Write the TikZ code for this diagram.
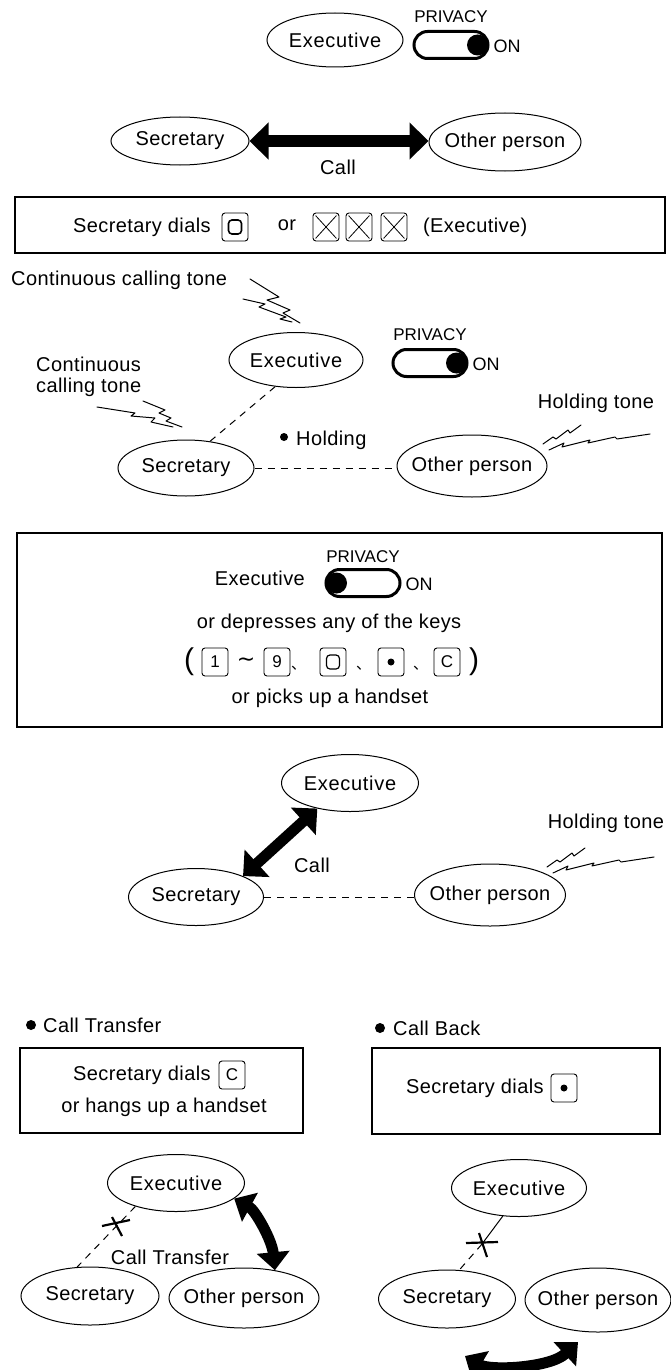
\documentclass[tikz,border=0pt]{standalone}
\usepackage{fontspec}
\setmainfont[LetterSpace=2]{Liberation Sans}
\newfontfamily\spaced[LetterSpace=3.5]{Liberation Sans}
\newfontfamily\plain{Liberation Sans}
\newfontfamily\cjk{Noto Sans CJK JP}
\newfontfamily\dejavu{DejaVu Sans}
\usetikzlibrary{shapes.geometric,shapes.misc,arrows.meta,calc}
\begin{document}
\begin{tikzpicture}[x=1pt,y=-1pt,
  every node/.style={inner sep=0pt, font=\fontsize{20}{21}\selectfont},
  person/.style 2 args={ellipse,draw,line width=1pt,inner xsep=-16pt,minimum width=#1,minimum height=#2},
  frame/.style 2 args={draw,line width=1.3pt,minimum width=#1,minimum height=#2},
  keybox/.style={draw,rounded corners=3pt,line width=0.9pt,minimum width=26pt,minimum height=28pt,font=\plain\fontsize{17}{17}\selectfont},
  zerokey/.style={draw,rounded corners=3.5pt,line width=1.6pt,minimum width=13pt,minimum height=14pt},
  sw/.style={rounded rectangle,draw,line width=3pt,minimum width=74pt,minimum height=27pt},
  knob/.style={circle,fill,minimum size=21pt},
  small/.style={font=\plain\fontsize{17}{17}\selectfont},
  ontext/.style={font=\plain\fontsize{18}{18}\selectfont},
  bigarrow/.style={line width=11pt,{Triangle[length=19pt,width=36pt]}-{Triangle[length=19pt,width=36pt]}},
  curvearrow/.style={line width=11pt,{Triangle[length=18pt,width=32pt]}-{Triangle[length=18pt,width=32pt]}},
  dsh/.style={line width=1pt,dash pattern=on 7pt off 6pt},
  bolt/.style={line width=1pt,line join=round,line cap=round},
  xmark/.style={line width=2.2pt},
  dotn/.style={circle,fill,minimum size=#1},
  xline/.style={line width=0.8pt},
  holdbolt/.pic={
    \draw[bolt] (-53,41) -- (-43,34) -- (-40,36) -- (-28,27) -- (-26,30) -- (-15,22);
    \draw[bolt] (-47,47) -- (-32,40) -- (-34,44) -- (-6,37) -- (-8,40) -- (19,34) -- (21,36) -- (54,31);
  },
]
\fill[white] (0,0) rectangle (670,1370);
\useasboundingbox (0,0) rectangle (670,1370);

% ---------- top ----------
\node[person={136pt}{54pt}] (exec1) at (335,40) {\spaced Executive};
\node[small] (priv1) at (451,17) {PRIVACY};
\node[sw] (sw1) at (451,45) {};
\node[knob] (knob1) at ($(sw1.east)+(-12,0)$) {};
\node[ontext,anchor=west] (on1) at ($(sw1.east)+(4,1)$) {ON};

% ---------- row 2 ----------
\node[person={138pt}{48pt}] (sec1) at (180,141) {Secretary};
\node[person={152pt}{58pt}] (oth1) at (505,142) {Other person};
\draw[bigarrow] (sec1.east) -- (sec1.east -| oth1.west);
\node (call1) at (338,167) {Call};

% ---------- box 1 ----------
\node[frame={650pt}{56pt}] (box1) at (340,225) {};
\node[anchor=west] (sd1) at (73,227) {Secretary dials};
\node[keybox] (k0a) at (235,227) {};
\node[zerokey] (k0ain) at (k0a) {};
\node (or1) at (287,225) {or};
\node[keybox] (kx1) at (326,227) {};
\node[keybox] (kx2) at (359,227) {};
\node[keybox] (kx3) at (394,227) {};
\foreach \k in {kx1,kx2,kx3}{
  \draw[xline] ([shift={(3,3)}]\k.north west) -- ([shift={(-3,-3)}]\k.south east);
  \draw[xline] ([shift={(-3,3)}]\k.north east) -- ([shift={(3,-3)}]\k.south west);
}
\node[anchor=west] (exe1) at (423,227) {(Executive)};

% ---------- diagram 2 ----------
\node[anchor=west] (cct1) at (11,280) {Continuous calling tone};
\draw[bolt] (250,279) -- (279,297) -- (267,300) -- (290,310) -- (283,313) -- (300,323);
\draw[bolt] (243,299) -- (265,304) -- (259,307) -- (286,317) -- (280,319) -- (292,322);

\node[person={134pt}{55pt}] (exec2) at (296,360) {\spaced Executive};
\node[small] (priv2) at (430,335) {PRIVACY};
\node[sw] (sw2) at (430,363) {};
\node[knob] (knob2) at ($(sw2.east)+(-12,0)$) {};
\node[ontext,anchor=west] (on2) at ($(sw2.east)+(4,1)$) {ON};

\node[anchor=west,align=left] (cct2) at (36,377) {Continuous\\calling tone};
\draw[bolt] (97,407) -- (135,413) -- (131,416) -- (155,418) -- (151,422) -- (173,427);
\draw[bolt] (143,401) -- (165,410) -- (159,413) -- (171,418) -- (166,421) -- (182,427);

\node[person={136pt}{56pt}] (sec2) at (186,468) {Secretary};
\node[person={150pt}{62pt}] (oth2) at (472,466) {Other person};
\draw[dsh] (exec2.232) -- (sec2.48);
\draw[dsh] (sec2.east) -- (sec2.east -| oth2.west);
\node[dotn=8pt] (hdot) at (284,437) {};
\node[anchor=west] (hold) at (296,440) {Holding};
\node (ht2) at (596,403) {Holding tone};
\pic at (ht2.center) {holdbolt};

% ---------- box 2 ----------
\node[frame={645pt}{194pt}] (box2) at (339.5,630) {};
\node[small] (priv3) at (363,557) {PRIVACY};
\node[anchor=east] (exec3t) at (305,578) {Executive};
\node[sw] (sw3) at (363,583) {};
\node[knob] (knob3) at ($(sw3.west)+(12,0)$) {};
\node[ontext,anchor=west] (on3) at ($(sw3.east)+(4,1)$) {ON};
\node (dep) at (329,623) {or depresses any of the keys};

\node[font=\plain\fontsize{30}{30}\selectfont] (lp) at (189,662) {(};
\node[keybox] (k1) at (215,662) {1};
\node[font=\dejavu\fontsize{22}{22}\selectfont] (tl) at (246,662) {∼};
\node[keybox] (k9) at (277,662) {9};
\node[font=\cjk\fontsize{15}{15}\selectfont,anchor=west] (cm1) at (291,668) {、};
\node[keybox] (k0b) at (333,662) {};
\node[zerokey,line width=1.2pt] (k0bin) at (k0b) {};
\node[font=\cjk\fontsize{15}{15}\selectfont,anchor=west] (cm2) at (356,668) {、};
\node[keybox] (kdot) at (391,662) {};
\node[dotn=7pt] (kdotin) at (kdot) {};
\node[font=\cjk\fontsize{15}{15}\selectfont,anchor=west] (cm3) at (413,668) {、};
\node[keybox] (kc) at (447,662) {C};
\node[font=\plain\fontsize{30}{30}\selectfont] (rp) at (474,662) {)};
\node (pick) at (330,698) {or picks up a handset};

% ---------- diagram 3 ----------
\node[person={137pt}{57pt}] (exec4) at (350,783) {\spaced Executive};
\node[person={135pt}{57pt}] (sec4) at (196,897) {Secretary};
\node[person={151pt}{62pt}] (oth4) at (490,895) {Other person};
\draw[bigarrow] (sec4.24) -- (exec4.218);
\node (call4) at (312,865) {Call};
\draw[dsh] (sec4.east) -- (sec4.east -| oth4.west);
\node (ht4) at (606,823) {Holding tone};
\pic at ($(ht4.center)+(-6,3)$) {holdbolt};

% ---------- bottom headings and boxes ----------
\node[dotn=10pt] (bd1) at (31,1025) {};
\node[anchor=west] (ctt) at (43,1025) {Call Transfer};
\node[dotn=10pt] (bd2) at (380,1028) {};
\node[anchor=west] (cbt) at (393,1028) {Call Back};

\node[frame={283pt}{85pt}] (boxL) at (161.5,1090.5) {};
\node[anchor=west] (sdL) at (73,1075) {Secretary dials};
\node[keybox] (kcL) at (232,1075) {C};
\node (hang) at (164,1107) {or hangs up a handset};

\node[frame={288pt}{86pt}] (boxR) at (516,1091) {};
\node[anchor=west] (sdR) at (406,1088) {Secretary dials};
\node[keybox] (kdR) at (564,1088) {};
\node[dotn=7pt] (kdRin) at (kdR) {};

% ---------- bottom left diagram ----------
\node[person={137pt}{57pt}] (execL) at (176,1183) {\spaced Executive};
\node[person={138pt}{58pt}] (secL) at (90,1296) {Secretary};
\node[person={150pt}{60pt}] (othL) at (244,1298) {Other person};
\draw[dsh] (execL.210) -- (secL.114);
\draw[xmark] (102,1226) -- (130,1220);
\draw[xmark] (112,1217) -- (122,1236);
\node (ctl) at (170,1257) {Call Transfer};
\draw[curvearrow] (execL.345) .. controls (255,1210) and (272,1240) .. (othL.42);

% ---------- bottom right diagram ----------
\node[person={135pt}{57pt}] (execR) at (519,1188) {\spaced Executive};
\node[person={137pt}{58pt}] (secR) at (447,1299) {Secretary};
\node[person={146pt}{64pt}] (othR) at (598,1300) {Other person};
\coordinate (xr) at (482,1244);
\draw[line width=1pt] (execR.240) -- (xr);
\draw[dsh] (xr) -- (secR.67);
\draw[xmark] (466,1243) -- (498,1242);
\draw[xmark] (479,1233) -- (487,1257);
\coordinate (ca1) at (465,1356);
\coordinate (ca2) at (578,1342);
\draw[curvearrow] (ca1) .. controls (490,1371) and (550,1368) .. (ca2);
\end{tikzpicture}
\end{document}
